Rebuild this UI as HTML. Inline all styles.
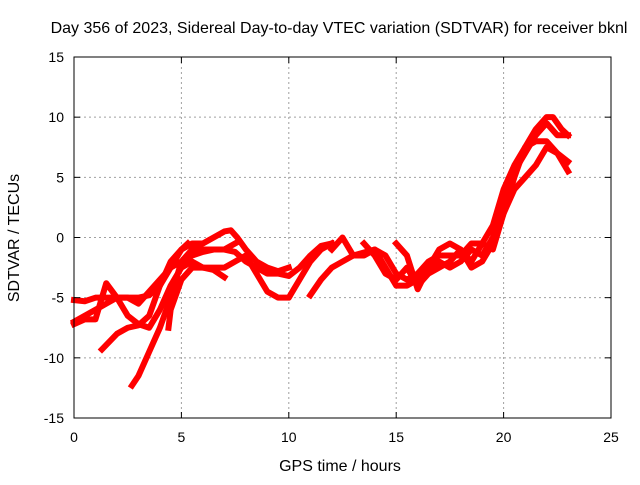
<!DOCTYPE html>
<html><head><meta charset="utf-8"><style>
body{margin:0;background:#fff;font-family:"Liberation Sans",sans-serif}
svg text{font-family:"Liberation Sans",sans-serif;font-size:14px;fill:#000}
</style></head><body>
<svg id="chart" width="640" height="480" viewBox="0 0 640 480" xmlns="http://www.w3.org/2000/svg">
<text x="339" y="33" text-anchor="middle" style="font-size:16px">Day 356 of 2023, Sidereal Day-to-day VTEC variation (SDTVAR) for receiver bknl</text>
<g id="grid"></g>
<g id="series"></g>
<rect x="74" y="57" width="537" height="361" fill="none" stroke="#000" stroke-width="1"/>
<g id="ticks"></g>
<text x="340" y="471" text-anchor="middle" style="font-size:16px">GPS time / hours</text>
<text x="19" y="238" text-anchor="middle" transform="rotate(-90 19 238)" style="font-size:16px">SDTVAR / TECUs</text>
</svg>
<script>
const xTicks=[0,5,10,15,20,25];
const yTicks=[-15,-10,-5,0,5,10,15];
const track1=[[0,-5.2],[0.5,-5.3],[1,-5],[1.5,-5],[2,-5],[3,-5],[3.5,-4.8],[4,-4],[4.5,-2.5],[5,-1],[5.3,-0.5]];
const track2=[[0,-7],[0.5,-6.5],[1,-6],[1.5,-5.5],[2,-5],[2.5,-5],[3,-5.5],[3.5,-4.5],[4,-3.5],[4.5,-2.5],[5,-2],[5.5,-1.5],[6,-1.2],[6.5,-1],[7,-1],[7.5,-1.2],[8,-2],[8.5,-2.5],[9,-3],[9.5,-3],[10,-3.2],[10.5,-2.5],[11,-1.5],[11.5,-0.7],[12,-0.5]];
const track3=[[0,-7.2],[0.5,-6.8],[1,-6.8],[1.3,-5],[1.5,-3.8],[2,-5],[2.5,-6.5],[3,-7.2],[3.5,-7.5],[4,-6],[4.5,-4],[5,-2.5],[5.5,-2],[6,-2.5],[6.5,-2.5],[7,-2.5],[7.5,-2],[8,-1.5],[8.5,-3],[9,-4.5],[9.5,-5],[10,-5],[10.5,-3.5],[11,-2],[11.5,-1],[12,-0.5]];
const track4=[[1.3,-9.3],[2,-8],[2.5,-7.5],[3,-7.3],[3.5,-6.5],[4,-4],[4.5,-2],[5,-1],[5.5,-0.5],[6,-0.5],[6.5,0],[7,0.5],[7.3,0.6],[7.6,0],[8,-1],[8.5,-2],[9,-2.5],[9.5,-2.8],[10,-2.5]];
const track5=[[2.7,-12.3],[3,-11.5],[3.5,-9.5],[4,-7.5],[4.5,-5],[5,-2],[5.5,-1],[6,-1],[6.5,-1],[7,-1],[7.5,-0.5]];
const track6=[[4.4,-7.5],[4.5,-6],[5,-3.5],[5.5,-2.5],[6,-2.5],[6.5,-2.7],[7,-3.3]];
const track7=[[11,-4.8],[11.5,-3.5],[12,-2.5],[12.5,-2],[13,-1.5],[13.5,-1.5],[14,-1],[14.5,-1.5],[15,-3],[15.5,-3.5],[16,-3],[16.5,-2],[17,-1.5],[18,-1.5],[18.5,-0.5],[19,-0.5],[19.5,-1],[20,2],[20.5,5],[21,7.5],[21.5,9],[22,10],[22.3,10],[22.7,9],[23,8.5]];
const track8=[[12,-1],[12.5,0],[13,-1.5],[14,-1],[14.5,-2.5],[15,-4],[15.5,-4],[16,-3.5],[16.5,-2.5],[17,-2],[17.5,-2.5],[18,-2],[18.5,-1],[19,-1.5],[19.5,0],[20,3],[20.5,5.5],[21,7],[21.5,8.5],[22,9.5],[22.5,8.5],[23,8.5]];
const track9=[[13.5,-0.5],[14,-1.5],[14.5,-3],[15,-3.5],[15.5,-2.5],[16,-4],[16.5,-3],[17,-2.5],[17.5,-2],[18,-1],[18.5,-2.5],[19,-2],[19.5,-0.5],[20,2],[20.5,4],[21,5],[21.5,6],[22,7.5],[22.5,7],[23,5.5]];
const track10=[[15,-0.5],[15.5,-1.5],[16,-4.3],[16.5,-2.5],[17,-1],[17.5,-0.5],[18,-1],[18.5,-2],[19,-0.5],[19.5,1],[20,4],[20.5,6],[21,7.5],[21.5,8],[22,8],[22.5,7],[23,6.3]];
const tracks=[track1,track2,track3,track4,track5,track6,track7,track8,track9,track10];

const X0=74,X1=611,Y0=418,Y1=57;
const xs=h=>X0+(h-0)/25*(X1-X0);
const ys=v=>Y0-(v+15)/30*(Y0-Y1);
const NS="http://www.w3.org/2000/svg";
const grid=document.getElementById('grid'),ticks=document.getElementById('ticks'),ser=document.getElementById('series');
function mk(tag,attrs,parent){const e=document.createElementNS(NS,tag);for(const k in attrs)e.setAttribute(k,attrs[k]);parent.appendChild(e);return e;}
xTicks.forEach(t=>{
  const x=xs(t);
  if(t>0&&t<25){const g=mk('line',{x1:x,x2:x,y1:Y1,y2:Y0,stroke:'#a0a0a0','stroke-dasharray':'2,3'},grid);
  
  }
  mk('line',{x1:x,x2:x,y1:Y0,y2:Y0-6,stroke:'#000'},ticks);
  mk('line',{x1:x,x2:x,y1:Y1,y2:Y1+6,stroke:'#000'},ticks);
  const l=mk('text',{x:x,y:Y0+24,'text-anchor':'middle'},ticks);l.textContent=t;
  
  
});
yTicks.forEach(t=>{
  const y=ys(t);
  if(t>-15&&t<15){const g=mk('line',{x1:X0,x2:X1,y1:y,y2:y,stroke:'#a0a0a0','stroke-dasharray':'2,3'},grid);
  
  }
  mk('line',{x1:X0,x2:X0+6,y1:y,y2:y,stroke:'#000'},ticks);
  mk('line',{x1:X1,x2:X1-6,y1:y,y2:y,stroke:'#000'},ticks);
  const l=mk('text',{x:X0-10,y:y+5,'text-anchor':'end'},ticks);l.textContent=t;
  
  
});
tracks.forEach((tr,i)=>{
  const p=mk('polyline',{points:tr.map(d=>xs(d[0])+','+ys(d[1])).join(' '),fill:'none',stroke:'#ff0000','stroke-width':6,'stroke-linejoin':'round','stroke-linecap':'square'},ser);
  
  
});
</script>
</body></html>
